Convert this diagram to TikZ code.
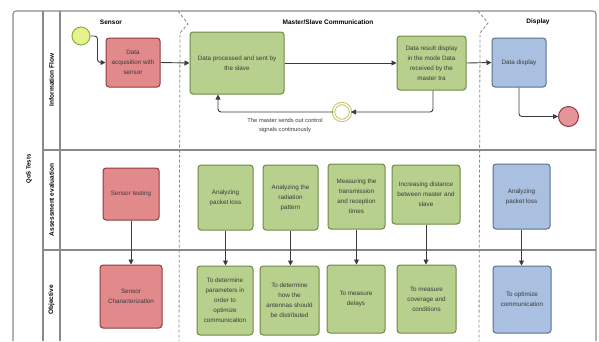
\documentclass[tikz,border=0pt]{standalone}
\usepackage{fontspec}
\setmainfont{Liberation Sans}
\usetikzlibrary{arrows.meta}
\definecolor{redf}{HTML}{E2898B}
\definecolor{redd}{HTML}{8E3B3E}
\definecolor{greenf}{HTML}{B7D08D}
\definecolor{greend}{HTML}{6F8A44}
\definecolor{bluef}{HTML}{A9C0E0}
\definecolor{blued}{HTML}{5C6F8E}
\definecolor{txt}{HTML}{3A3A3A}
\definecolor{lanec}{HTML}{8A8A8A}
\definecolor{flowc}{HTML}{3C3C3C}
\definecolor{startf}{HTML}{E6F38C}
\definecolor{startd}{HTML}{86AE45}
\definecolor{interd}{HTML}{C9C46A}
\newcommand{\boxfont}{\fontsize{6.3}{10}\selectfont}
\newcommand{\hdrfont}{\fontsize{6.5}{8}\selectfont\bfseries}
\tikzset{
  box/.style={draw, rounded corners=3pt, line width=1pt, align=center, font=\boxfont, text=txt, inner sep=1pt},
  redbox/.style={box, fill=redf, draw=redd},
  greenbox/.style={box, fill=greenf, draw=greend},
  bluebox/.style={box, fill=bluef, draw=blued},
  flow/.style={draw=flowc, line width=0.9pt, rounded corners=3pt, -{Triangle[length=5pt,width=5pt]}},
  laneline/.style={draw=lanec, line width=1.1pt},
  colsep/.style={draw=lanec, dashed, line width=0.8pt, dash pattern=on 3pt off 2pt},
  hdr/.style={font=\hdrfont, text=black},
  lanelbl/.style={font=\hdrfont, text=black, rotate=90},
}
\begin{document}
\begin{tikzpicture}[x=1pt,y=-1pt]
\useasboundingbox (0,0) rectangle (599,341);
% pool frame
\draw[laneline, rounded corners=3pt] (13,341) -- (13,11) -- (596,11) -- (596,341);
\draw[laneline] (43,11) -- (43,341);
\draw[laneline] (60,11) -- (60,341);
\draw[laneline] (43,150) -- (596,150);
\draw[laneline] (43,250) -- (596,250);
% column separators
\draw[colsep] (178,11) -- (188,24) -- (180,33) -- (179,341);
\draw[colsep] (478,11) -- (488,23) -- (480,33) -- (479,341);
% headers
\node[hdr] (hsensor) at (111,22) {Sensor};
\node[hdr] (hms) at (328,22) {Master/Slave Communication};
\node[hdr] (hdisp) at (538,22) {Display};
\node[lanelbl] (linfo) at (51.5,80) {Information Flow};
\node[lanelbl] (lassess) at (51.5,200) {Assessment evaluation};
\node[lanelbl] (lobj) at (51.5,300) {Objective};
\node[lanelbl, font=\fontsize{6}{8}\selectfont\bfseries] (lpool) at (29,169) {QoS Tests};
% information flow lane
\node[circle, draw=startd, fill=startf, line width=1pt, minimum size=18pt, inner sep=0pt] (start) at (81,36) {};
\node[redbox, minimum width=54pt, minimum height=49pt] (acq) at (133,62.5) {Data\\acquisition with\\sensor};
\node[greenbox, minimum width=94pt, minimum height=62pt] (proc) at (237,63) {Data processed and sent by\\the slave};
\node[greenbox, minimum width=69pt, minimum height=54pt] (res) at (431.5,63) {Data result display\\in the mode Data\\received by the\\master tra};
\node[bluebox, minimum width=54pt, minimum height=49pt] (disp) at (519,62.5) {Data display};
\node[circle, draw=redd, fill=redf!90!white, line width=1pt, minimum size=20pt, inner sep=0pt] (endc) at (568.5,116.5) {};
\node[circle, double=white, double distance=1.3pt, draw=interd, fill=white, line width=1pt, minimum size=17pt, inner sep=0pt] (inter) at (342,112) {};
\node[font=\fontsize{5.8}{9}\selectfont, text=txt, align=center] (ctrl) at (285,125) {The master sends out control\\signals continuously};
\draw[flow] (start.east) -- ++(7,0) |- (acq.west);
\draw[flow] (acq.east) -- (proc.west);
\draw[flow] (proc.east) -- (res.west);
\draw[flow] (res.east) -- (disp.west);
\draw[flow] (disp.south) |- (endc.west);
\draw[flow] ([xshift=1.5pt]res.south) |- (inter.east);
\draw[flow] (inter.west) -| ([xshift=-19pt]proc.south);
% assessment lane
\node[redbox, minimum width=56pt, minimum height=52pt] (stest) at (131,194) {Sensor testing};
\node[greenbox, minimum width=55pt, minimum height=65pt] (a1) at (225.5,197.5) {Analyzing\\packet loss};
\node[greenbox, minimum width=55pt, minimum height=65pt] (a2) at (290.5,197.5) {Analyzing the\\radiation\\pattern};
\node[greenbox, minimum width=57pt, minimum height=65pt] (a3) at (356.5,196.5) {Measuring the\\transmission\\and reception\\times};
\node[greenbox, minimum width=68pt, minimum height=59pt] (a4) at (426,194.5) {Increasing distance\\between master and\\slave};
\node[bluebox, minimum width=57pt, minimum height=65pt] (a5) at (521.5,196.5) {Analyzing\\packet loss};
% objective lane
\node[redbox, minimum width=62pt, minimum height=63pt] (schar) at (131,296.5) {Sensor\\Characterization};
\node[greenbox, minimum width=56pt, minimum height=69pt] (o1) at (225,300.5) {To determine\\parameters in\\order to\\optimize\\communication};
\node[greenbox, minimum width=59pt, minimum height=69pt] (o2) at (289.5,300.5) {To determine\\how the\\antennas should\\be distributed};
\node[greenbox, minimum width=58pt, minimum height=68pt] (o3) at (356,299) {To measure\\delays};
\node[greenbox, minimum width=59pt, minimum height=68pt] (o4) at (426.5,299) {To measure\\coverage and\\conditions};
\node[bluebox, minimum width=58pt, minimum height=67pt] (o5) at (522,299.5) {To optimize\\communication};
\draw[flow] (stest.south) -- (schar.north);
\draw[flow] (a1.south) -- (a1.south |- o1.north);
\draw[flow] (a2.south) -- (a2.south |- o2.north);
\draw[flow] (a3.south) -- (a3.south |- o3.north);
\draw[flow] (a4.south) -- (a4.south |- o4.north);
\draw[flow] (a5.south) -- (a5.south |- o5.north);
\end{tikzpicture}
\end{document}
